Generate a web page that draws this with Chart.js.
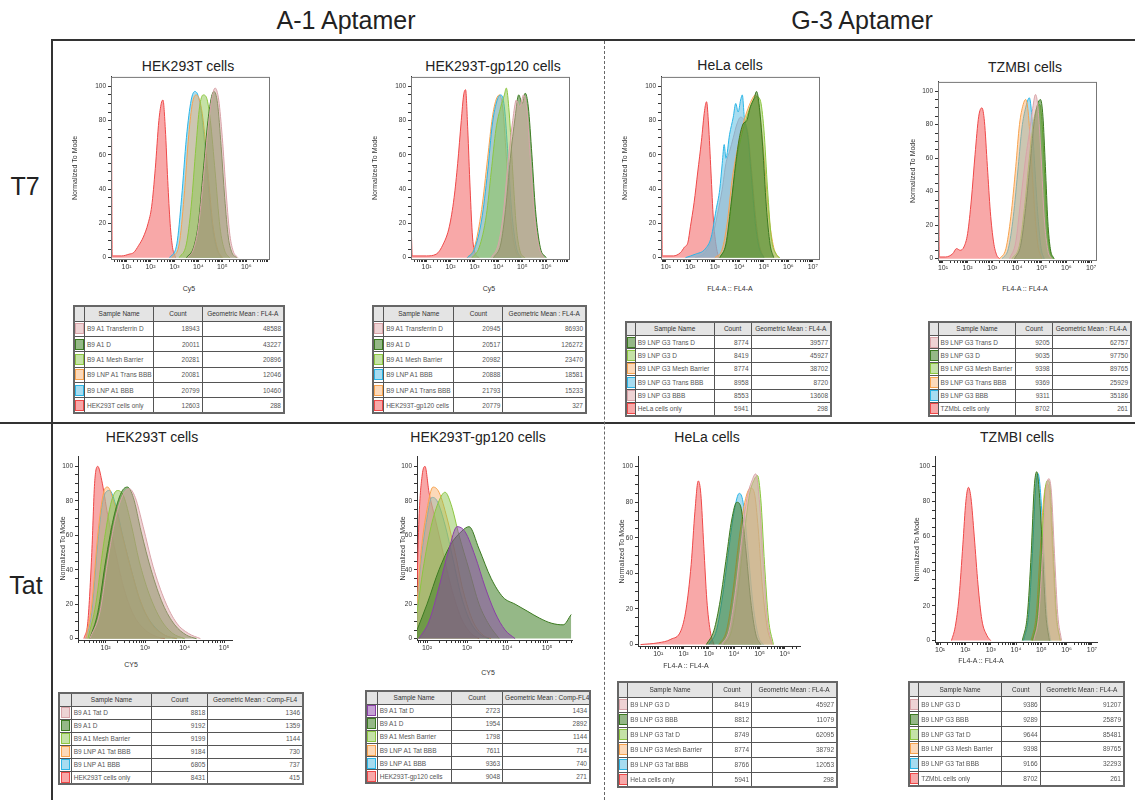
<!DOCTYPE html>
<html>
<head>
<meta charset="utf-8">
<script src="https://cdn.jsdelivr.net/npm/chart.js@4.4.0/dist/chart.umd.min.js"></script>
<style>
  body { margin: 0; background: #fff; font-family: "Liberation Sans", Arial, sans-serif; }
  #fig { position: relative; width: 1135px; height: 800px; overflow: hidden; }
  .abs { position: absolute; }
  .head { font-size: 25px; color: #222; white-space: nowrap; transform: translate(-50%, -50%); }
  .ptitle { font-size: 14px; color: #222; white-space: nowrap; transform: translate(-50%, -50%); }
  .xlab { font-size: 7px; color: #333; white-space: nowrap; transform: translate(-50%, -50%); }
  table.fj { border-collapse: collapse; table-layout: fixed; font-size: 6.5px; color: #555; border: 2px solid #666; }
  table.fj td, table.fj th { border: 1px solid #555; padding: 0 2px; overflow: hidden; white-space: nowrap; }
  table.fj th { background: #e4e4e4; font-weight: normal; color: #333; text-align: center; }
  table.fj td.num { text-align: right; }
  table.fj td.chip { padding: 0; text-align: center; }
  .sw { display: inline-block; width: 7px; height: 9px; vertical-align: middle; }
</style>
</head>
<body>
<div id="fig"></div>
<script>
// ---- T7 / HEK293T ----
const t7HekNames = ['B9 A1 Transferrin D', 'B9 A1 D', 'B9 A1 Mesh Barrier', 'B9 LNP A1 Trans BBB', 'B9 LNP A1 BBB', 'HEK293T cells only'];
const t7HekCounts = [18943, 20011, 20281, 20081, 20799, 12603];
const t7HekMeans = [48588, 43227, 20896, 12046, 10460, 288];
const t7HekTransD = [[3.55,0],[3.8,5],[4.0,18],[4.2,45],[4.4,75],[4.55,92],[4.7,99],[4.85,92],[5.0,70],[5.15,40],[5.3,15],[5.45,4],[5.65,0]];
const t7HekD = [[3.5,0],[3.8,6],[4.0,20],[4.2,50],[4.4,80],[4.55,94],[4.65,97],[4.8,90],[4.95,65],[5.1,35],[5.25,12],[5.4,3],[5.6,0]];
const t7HekMesh = [[3.2,0],[3.5,8],[3.7,30],[3.9,65],[4.05,88],[4.2,95],[4.35,93],[4.5,80],[4.7,50],[4.9,18],[5.1,4],[5.3,0]];
const t7HekTransBBB = [[2.9,0],[3.2,8],[3.4,35],[3.6,72],[3.75,90],[3.9,95],[4.05,92],[4.2,80],[4.4,50],[4.6,20],[4.8,5],[5.0,0]];
const t7HekBBB = [[2.8,0],[3.1,8],[3.3,35],[3.5,70],[3.7,92],[3.85,97],[4.0,94],[4.15,82],[4.35,52],[4.55,22],[4.75,6],[4.95,0]];
const t7HekCells = [[0.35,0],[0.36,100],[0.4,1],[0.8,1],[1.1,2],[1.3,3],[1.5,7],[1.7,12],[1.9,20],[2.05,30],[2.2,52],[2.35,80],[2.45,90],[2.52,92],[2.62,75],[2.72,45],[2.82,20],[2.92,6],[3.05,0]];

// ---- T7 / HEK293T-gp120 ----
const t7GpNames = ['B9 A1 Transferrin D', 'B9 A1 D', 'B9 A1 Mesh Barrier', 'B9 LNP A1 BBB', 'B9 LNP A1 Trans BBB', 'HEK293T-gp120 cells'];
const t7GpCounts = [20945, 20517, 20982, 20888, 21793, 20779];
const t7GpMeans = [86930, 126272, 23470, 18581, 15233, 327];
const t7GpTransD = [[3.7,0],[4.0,8],[4.2,25],[4.4,55],[4.6,80],[4.75,92],[4.9,88],[5.05,95],[5.2,85],[5.35,55],[5.5,25],[5.7,6],[5.9,0]];
const t7GpD = [[3.8,0],[4.1,8],[4.3,28],[4.5,58],[4.7,82],[4.85,95],[5.0,90],[5.12,96],[5.25,88],[5.4,60],[5.55,28],[5.75,6],[6.0,0]];
const t7GpMesh = [[2.9,0],[3.2,6],[3.5,25],[3.7,50],[3.9,75],[4.1,88],[4.25,95],[4.33,99],[4.45,85],[4.6,50],[4.75,18],[4.9,4],[5.1,0]];
const t7GpBBB = [[2.7,0],[3.0,5],[3.3,22],[3.55,50],[3.75,78],[3.95,92],[4.1,95],[4.25,88],[4.4,60],[4.55,28],[4.75,6],[4.95,0]];
const t7GpTransBBB = [[2.7,0],[3.0,6],[3.3,28],[3.55,58],[3.75,82],[3.9,92],[4.05,95],[4.2,85],[4.35,55],[4.5,25],[4.7,5],[4.9,0]];
const t7GpCells = [[0.35,0],[0.36,15],[0.4,1],[1.0,1],[1.4,2],[1.7,8],[1.95,18],[2.15,35],[2.3,55],[2.45,80],[2.55,95],[2.63,98],[2.72,75],[2.82,40],[2.92,12],[3.05,2],[3.2,0]];

// ---- T7 / HeLa ----
const t7HelaNames = ['B9 LNP G3 Trans D', 'B9 LNP G3 D', 'B9 LNP G3 Mesh Barrier', 'B9 LNP G3 Trans BBB', 'B9 LNP G3 BBB', 'HeLa cells only'];
const t7HelaCounts = [8774, 8419, 8774, 8958, 8553, 5941];
const t7HelaMeans = [39577, 45927, 38702, 8720, 13608, 298];
const t7HelaTransD = [[3.2,0],[3.45,8],[3.65,30],[3.85,55],[4.0,70],[4.15,78],[4.3,80],[4.45,88],[4.6,93],[4.7,97],[4.8,90],[4.95,65],[5.1,30],[5.25,8],[5.4,0]];
const t7HelaD = [[3.2,0],[3.5,10],[3.7,35],[3.9,58],[4.1,72],[4.3,82],[4.5,90],[4.7,94],[4.85,92],[5.0,75],[5.15,40],[5.3,12],[5.5,2],[5.65,0]];
const t7HelaMesh = [[3.0,0],[3.3,5],[3.5,20],[3.7,45],[3.9,62],[4.1,75],[4.3,85],[4.5,92],[4.65,95],[4.8,88],[5.0,60],[5.2,25],[5.4,6],[5.6,0]];
const t7HelaTransBBB = [[1.8,0],[2.2,2],[2.6,5],[2.85,12],[3.05,28],[3.2,40],[3.3,55],[3.38,66],[3.45,58],[3.6,72],[3.75,82],[3.85,90],[3.95,85],[4.05,92],[4.12,95],[4.2,82],[4.35,70],[4.5,45],[4.65,20],[4.8,6],[5.0,0]];
const t7HelaBBB = [[2.2,0],[2.6,3],[2.9,12],[3.1,25],[3.3,40],[3.45,55],[3.6,62],[3.75,70],[3.9,78],[4.05,82],[4.2,80],[4.35,72],[4.5,50],[4.65,25],[4.8,8],[5.0,0]];
const t7HelaCells = [[0.8,0],[0.81,100],[0.85,1],[1.3,1],[1.6,3],[1.75,6],[1.9,9],[2.0,18],[2.15,32],[2.3,50],[2.45,68],[2.58,86],[2.66,91],[2.74,78],[2.84,50],[2.94,22],[3.04,8],[3.15,0]];

// ---- T7 / TZMBI ----
const t7TzmNames = ['B9 LNP G3 Trans D', 'B9 LNP G3 D', 'B9 LNP G3 Mesh Barrier', 'B9 LNP G3 Trans BBB', 'B9 LNP G3 BBB', 'TZMbL cells only'];
const t7TzmCounts = [9205, 9035, 9398, 9369, 9311, 8702];
const t7TzmMeans = [62757, 97750, 89765, 25929, 35186, 261];
const t7TzmTransD = [[3.7,0],[3.95,10],[4.15,35],[4.35,60],[4.5,75],[4.62,88],[4.75,98],[4.85,90],[4.98,60],[5.1,25],[5.25,5],[5.4,0]];
const t7TzmD = [[3.9,0],[4.15,8],[4.35,30],[4.55,60],[4.7,82],[4.83,92],[4.95,95],[5.05,85],[5.15,55],[5.25,22],[5.35,6],[5.5,0]];
const t7TzmMesh = [[3.8,0],[4.1,8],[4.3,30],[4.5,60],[4.65,80],[4.8,90],[4.92,92],[5.02,80],[5.12,50],[5.22,20],[5.35,4],[5.5,0]];
const t7TzmTransBBB = [[3.3,0],[3.55,6],[3.75,25],[3.95,55],[4.1,80],[4.25,92],[4.35,95],[4.45,88],[4.58,60],[4.72,28],[4.85,8],[5.0,0]];
const t7TzmBBB = [[3.4,0],[3.65,6],[3.85,25],[4.05,55],[4.2,78],[4.35,90],[4.5,96],[4.6,85],[4.72,55],[4.85,25],[4.98,6],[5.1,0]];
const t7TzmCells = [[0.8,0],[0.81,100],[0.85,1],[1.1,1],[1.4,3],[1.55,6],[1.7,5],[1.85,7],[2.0,15],[2.15,35],[2.3,62],[2.45,85],[2.58,90],[2.68,82],[2.8,55],[2.92,28],[3.05,10],[3.18,2],[3.3,0]];

// ---- Tat / HEK293T ----
const tatHekNames = ['B9 A1 Tat D', 'B9 A1 D', 'B9 A1 Mesh Barrier', 'B9 LNP A1 Tat BBB', 'B9 LNP A1 BBB', 'HEK293T cells only'];
const tatHekCounts = [8818, 9192, 9199, 9184, 6805, 8431];
const tatHekMeans = [1346, 1359, 1144, 730, 737, 415];
const tatHekTatD = [[1.6,0],[1.85,15],[2.05,45],[2.25,70],[2.45,84],[2.6,87],[2.75,82],[2.95,65],[3.2,42],[3.5,22],[3.8,9],[4.1,3],[4.4,0]];
const tatHekD = [[1.6,0],[1.8,15],[2.0,45],[2.2,70],[2.4,85],[2.55,88],[2.7,82],[2.9,62],[3.15,40],[3.45,20],[3.75,8],[4.05,2],[4.3,0]];
const tatHekMesh = [[1.55,0],[1.75,20],[1.95,55],[2.15,80],[2.3,86],[2.45,83],[2.65,66],[2.85,45],[3.1,26],[3.4,11],[3.7,3],[4.0,0]];
const tatHekTatBBB = [[1.5,0],[1.65,20],[1.8,60],[1.95,85],[2.05,88],[2.2,80],[2.4,62],[2.6,44],[2.85,24],[3.15,9],[3.5,2],[3.8,0]];
const tatHekBBB = [[1.5,0],[1.65,15],[1.8,55],[1.95,82],[2.1,86],[2.25,78],[2.45,58],[2.65,40],[2.9,20],[3.2,8],[3.5,2],[3.8,0]];
const tatHekCells = [[1.45,0],[1.55,10],[1.65,50],[1.72,90],[1.8,100],[1.9,92],[2.05,72],[2.25,50],[2.45,30],[2.7,14],[3.0,5],[3.3,1],[3.5,0]];

// ---- Tat / HEK293T-gp120 ----
const tatGpNames = ['B9 A1 Tat D', 'B9 A1 D', 'B9 A1 Mesh Barrier', 'B9 LNP A1 Tat BBB', 'B9 LNP A1 BBB', 'HEK293T-gp120 cells'];
const tatGpCounts = [2723, 1954, 1798, 7611, 9363, 9048];
const tatGpMeans = [1434, 2892, 1144, 714, 740, 271];
const tatGpTatD = [[1.8,0],[2.05,10],[2.3,30],[2.55,52],[2.75,65],[2.95,62],[3.2,48],[3.45,30],[3.7,15],[3.95,5],[4.2,0]];
const tatGpD = [[1.75,5],[2.0,20],[2.3,40],[2.6,55],[2.85,62],[3.05,65],[3.3,52],[3.6,35],[3.9,24],[4.2,20],[4.5,16],[4.8,12],[5.1,9],[5.4,8],[5.6,14]];
const tatGpMesh = [[1.75,15],[1.9,40],[2.1,65],[2.3,80],[2.45,85],[2.6,78],[2.8,60],[3.05,40],[3.3,20],[3.55,8],[3.8,0]];
const tatGpTatBBB = [[1.75,20],[1.85,50],[2.0,75],[2.15,88],[2.3,85],[2.5,70],[2.7,50],[2.9,28],[3.15,10],[3.4,2],[3.6,0]];
const tatGpBBB = [[1.75,18],[1.85,45],[2.0,70],[2.12,82],[2.25,80],[2.45,66],[2.65,46],[2.85,25],[3.1,9],[3.35,2],[3.55,0]];
const tatGpCells = [[1.75,30],[1.8,70],[1.88,95],[1.95,100],[2.05,85],[2.2,70],[2.4,50],[2.6,30],[2.85,12],[3.1,3],[3.3,0]];

// ---- Tat / HeLa ----
const tatHelaNames = ['B9 LNP G3 D', 'B9 LNP G3 BBB', 'B9 LNP G3 Tat D', 'B9 LNP G3 Mesh Barrier', 'B9 LNP G3 Tat BBB', 'HeLa cells only'];
const tatHelaCounts = [8419, 8812, 8749, 8774, 8766, 5941];
const tatHelaMeans = [45927, 11079, 62095, 38792, 12053, 298];
const tatHelaD = [[3.5,0],[3.8,8],[4.05,30],[4.3,60],[4.5,82],[4.7,92],[4.85,96],[5.0,80],[5.15,45],[5.3,15],[5.5,0]];
const tatHelaBBB = [[2.9,0],[3.2,8],[3.45,25],[3.7,50],[3.9,70],[4.1,80],[4.25,78],[4.45,55],[4.65,25],[4.85,6],[5.05,0]];
const tatHelaTatD = [[3.6,0],[3.9,8],[4.15,30],[4.4,62],[4.6,84],[4.8,93],[4.92,95],[5.05,82],[5.2,45],[5.35,15],[5.55,0]];
const tatHelaMesh = [[3.4,0],[3.7,8],[3.95,30],[4.2,60],[4.45,82],[4.65,88],[4.8,85],[4.95,65],[5.1,35],[5.3,10],[5.5,0]];
const tatHelaTatBBB = [[3.0,0],[3.3,8],[3.55,28],[3.8,55],[4.0,75],[4.2,85],[4.35,80],[4.55,52],[4.75,22],[4.95,5],[5.15,0]];
const tatHelaCells = [[0.3,0],[1.0,1],[1.5,3],[1.9,8],[2.1,20],[2.3,45],[2.45,75],[2.58,92],[2.68,85],[2.8,55],[2.92,25],[3.05,8],[3.2,0]];

// ---- Tat / TZMBI ----
const tatTzmNames = ['B9 LNP G3 D', 'B9 LNP G3 BBB', 'B9 LNP G3 Tat D', 'B9 LNP G3 Mesh Barrier', 'B9 LNP G3 Tat BBB', 'TZMbL cells only'];
const tatTzmCounts = [9386, 9289, 9644, 9398, 9166, 8702];
const tatTzmMeans = [91207, 25879, 85481, 89765, 32293, 261];
const tatTzmD = [[4.7,0],[4.9,15],[5.05,50],[5.18,85],[5.3,93],[5.4,85],[5.52,50],[5.65,15],[5.8,0]];
const tatTzmBBB = [[4.25,0],[4.45,15],[4.6,50],[4.72,88],[4.82,97],[4.92,85],[5.05,50],[5.18,15],[5.32,0]];
const tatTzmTatD = [[4.65,0],[4.85,15],[5.0,50],[5.14,85],[5.25,92],[5.35,88],[5.48,50],[5.6,15],[5.75,0]];
const tatTzmMesh = [[4.6,0],[4.8,15],[4.95,50],[5.1,82],[5.22,90],[5.32,86],[5.45,50],[5.58,15],[5.75,0]];
const tatTzmTatBBB = [[4.3,0],[4.5,15],[4.65,50],[4.77,86],[4.87,96],[4.97,85],[5.1,50],[5.22,15],[5.37,0]];
const tatTzmCells = [[1.45,0],[1.6,8],[1.75,25],[1.9,55],[2.02,80],[2.12,88],[2.22,82],[2.35,60],[2.5,32],[2.65,12],[2.85,3],[3.0,0]];

const palette = {
  red:     ['#ef4848', 'rgba(242,96,96,0.55)'],
  pink:    ['#d8a3a8', 'rgba(222,168,170,0.5)'],
  dkgreen: ['#3b7a20', 'rgba(62,125,36,0.55)'],
  ltgreen: ['#8cc63f', 'rgba(140,198,80,0.5)'],
  orange:  ['#f7a34e', 'rgba(248,170,100,0.45)'],
  blue:    ['#2bb5e6', 'rgba(80,185,225,0.5)'],
  purple:  ['#8a3fa6', 'rgba(140,70,170,0.5)']
};

const colsA = ['5%', '33%', '23%', '39%'];
const colsG = ['4.5%', '38.5%', '18%', '39%'];

const panels = [
  { title: 'HEK293T cells', tx: 188, ty: 66, plot: [111, 75, 269, 259], xr: [0.35, 6.95], xLabel: 'Cy5', lx: 189, ly: 288, yt: 36, frame: true,
    names: t7HekNames, counts: t7HekCounts, means: t7HekMeans, meanHead: 'Geometric Mean : FL4-A',
    curves: [t7HekTransD, t7HekD, t7HekMesh, t7HekTransBBB, t7HekBBB, t7HekCells],
    colors: ['pink', 'dkgreen', 'ltgreen', 'orange', 'blue', 'red'], tbl: [73, 305, 212, 107], cols: colsA },
  { title: 'HEK293T-gp120  cells', tx: 493, ty: 66, plot: [411, 75, 569, 259], xr: [0.35, 6.95], xLabel: 'Cy5', lx: 489, ly: 288, yt: 36, frame: true,
    names: t7GpNames, counts: t7GpCounts, means: t7GpMeans, meanHead: 'Geometric Mean : FL4-A',
    curves: [t7GpTransD, t7GpD, t7GpMesh, t7GpBBB, t7GpTransBBB, t7GpCells],
    colors: ['pink', 'dkgreen', 'ltgreen', 'blue', 'orange', 'red'], tbl: [372, 305, 215, 107], cols: colsA },
  { title: 'HeLa cells', tx: 730, ty: 65, plot: [661, 75, 819, 259], xr: [0.8, 7.25], xLabel: 'FL4-A :: FL4-A', lx: 730, ly: 288, yt: 36, frame: true,
    names: t7HelaNames, counts: t7HelaCounts, means: t7HelaMeans, meanHead: 'Geometric Mean : FL4-A',
    curves: [t7HelaTransD, t7HelaD, t7HelaMesh, t7HelaTransBBB, t7HelaBBB, t7HelaCells],
    colors: ['dkgreen', 'ltgreen', 'orange', 'blue', 'pink', 'red'], tbl: [625, 321, 207, 94], cols: colsG },
  { title: 'TZMBI cells', tx: 1025, ty: 67, plot: [938, 80, 1096, 260], xr: [0.8, 7.2], xLabel: 'FL4-A :: FL4-A', lx: 1025, ly: 288, yt: 25, frame: true,
    names: t7TzmNames, counts: t7TzmCounts, means: t7TzmMeans, meanHead: 'Geometric Mean : FL4-A',
    curves: [t7TzmTransD, t7TzmD, t7TzmMesh, t7TzmTransBBB, t7TzmBBB, t7TzmCells],
    colors: ['pink', 'dkgreen', 'ltgreen', 'orange', 'blue', 'red'], tbl: [928, 321, 204, 94], cols: colsG },
  { title: 'HEK293T cells', tx: 152, ty: 437, plot: [78, 455, 232, 640], xr: [1.3, 5.2], xLabel: 'CY5', lx: 131, ly: 664, yt: 15, frame: false,
    names: tatHekNames, counts: tatHekCounts, means: tatHekMeans, meanHead: 'Geometric Mean : Comp-FL4',
    curves: [tatHekTatD, tatHekD, tatHekMesh, tatHekTatBBB, tatHekBBB, tatHekCells],
    colors: ['pink', 'dkgreen', 'ltgreen', 'orange', 'blue', 'red'], tbl: [58, 692, 246, 91], cols: colsA },
  { title: 'HEK293T-gp120  cells', tx: 478, ty: 437, plot: [417, 455, 572, 640], xr: [1.75, 5.62], xLabel: 'CY5', lx: 488, ly: 672, yt: 14, frame: false,
    names: tatGpNames, counts: tatGpCounts, means: tatGpMeans, meanHead: 'Geometric Mean : Comp-FL4',
    curves: [tatGpTatD, tatGpD, tatGpMesh, tatGpTatBBB, tatGpBBB, tatGpCells],
    colors: ['purple', 'dkgreen', 'ltgreen', 'orange', 'blue', 'red'], tbl: [365, 690, 226, 92], cols: colsA },
  { title: 'HeLa cells', tx: 707, ty: 437, plot: [638, 455, 800, 646], xr: [0.2, 6.6], xLabel: 'FL4-A :: FL4-A', lx: 686, ly: 665, yt: 16, frame: false,
    names: tatHelaNames, counts: tatHelaCounts, means: tatHelaMeans, meanHead: 'Geometric Mean : FL4-A',
    curves: [tatHelaD, tatHelaBBB, tatHelaTatD, tatHelaMesh, tatHelaTatBBB, tatHelaCells],
    colors: ['pink', 'dkgreen', 'ltgreen', 'orange', 'blue', 'red'], tbl: [617, 681, 221, 105], cols: colsG },
  { title: 'TZMBI cells', tx: 1017, ty: 437, plot: [935, 455, 1097, 642], xr: [0.8, 7.2], xLabel: 'FL4-A :: FL4-A', lx: 981, ly: 660, yt: 18, frame: false,
    names: tatTzmNames, counts: tatTzmCounts, means: tatTzmMeans, meanHead: 'Geometric Mean : FL4-A',
    curves: [tatTzmD, tatTzmBBB, tatTzmTatD, tatTzmMesh, tatTzmTatBBB, tatTzmCells],
    colors: ['pink', 'dkgreen', 'ltgreen', 'orange', 'blue', 'red'], tbl: [908, 681, 217, 104], cols: colsG }
];

const fig = document.getElementById('fig');

function addDiv(cls, text, x, y) {
  const d = document.createElement('div');
  d.className = 'abs ' + cls;
  d.textContent = text;
  d.style.left = x + 'px';
  d.style.top = y + 'px';
  fig.appendChild(d);
  return d;
}

function line(x, y, w, h, style) {
  const d = document.createElement('div');
  d.className = 'abs';
  Object.assign(d.style, { left: x + 'px', top: y + 'px', width: w + 'px', height: h + 'px' }, style);
  fig.appendChild(d);
}

// frame lines of the figure
line(52, 39, 1083, 2, { background: '#333' });
line(51, 39, 2, 761, { background: '#333' });
line(0, 422, 1135, 2, { background: '#333' });
line(604, 41, 0, 759, { borderLeft: '1.5px dashed #666' });

addDiv('head', 'A-1 Aptamer', 346, 20);
addDiv('head', 'G-3 Aptamer', 862, 20);
addDiv('head', 'T7', 25, 186);
addDiv('head', 'Tat', 26, 585);

const sup = { '0': '⁰', '1': '¹', '2': '²', '3': '³', '4': '⁴', '5': '⁵', '6': '⁶', '7': '⁷' };

const framePlugin = {
  id: 'frame',
  afterDraw(chart, args, opts) {
    if (!opts.on) return;
    const a = chart.chartArea, c = chart.ctx;
    c.save();
    c.strokeStyle = '#777';
    c.lineWidth = 1;
    c.strokeRect(a.left + 0.5, a.top + 0.5, a.right - a.left, a.bottom - a.top);
    c.restore();
  }
};

function buildChart(p) {
  const [l, t, r, b] = p.plot;
  const yW = 40, padT = 4, padR = 6, xH = 16;
  const cv = document.createElement('canvas');
  const w = r - l + yW + padR, h = b - t + padT + xH;
  cv.width = w; cv.height = h;
  Object.assign(cv.style, { position: 'absolute', left: (l - yW) + 'px', top: (t - padT) + 'px', width: w + 'px', height: h + 'px' });
  fig.appendChild(cv);

  const datasets = p.curves.map((pts, i) => ({
    label: p.names[i],
    data: pts.map(([x, y]) => ({ x, y })),
    borderColor: palette[p.colors[i]][0],
    backgroundColor: palette[p.colors[i]][1],
    borderWidth: 1,
    fill: 'origin',
    pointRadius: 0,
    cubicInterpolationMode: 'monotone'
  }));

  new Chart(cv, {
    type: 'line',
    data: { datasets },
    plugins: [framePlugin],
    options: {
      responsive: false,
      animation: false,
      layout: { padding: { top: padT, right: padR, left: 0, bottom: 0 } },
      plugins: { legend: { display: false }, tooltip: { enabled: false }, frame: { on: p.frame } },
      scales: {
        x: {
          type: 'linear', min: p.xr[0], max: p.xr[1],
          afterFit: (s) => { s.height = xH; },
          afterBuildTicks: (s) => {
            const ticks = [];
            for (let d = Math.floor(p.xr[0]); d <= p.xr[1]; d++) {
              for (let k = 1; k <= 9; k++) {
                const v = d + Math.log10(k);
                if (v >= p.xr[0] && v <= p.xr[1]) ticks.push({ value: v, major: k === 1 });
              }
            }
            s.ticks = ticks;
          },
          ticks: {
            autoSkip: false, maxRotation: 0, padding: 1,
            font: { size: 7, family: 'Liberation Sans' }, color: '#333',
            callback: (v) => {
              const r0 = Math.round(v);
              return Math.abs(v - r0) < 1e-6 ? '10' + (sup[r0] || '') : '';
            }
          },
          grid: { drawOnChartArea: false, tickLength: 3, color: '#333', tickWidth: 1 },
          border: { color: '#333', width: 1 }
        },
        y: {
          min: -0.8, max: 105.5,
          afterFit: (s) => { s.width = yW; },
          afterBuildTicks: (s) => {
            const ticks = [];
            for (let v = 0; v <= 100; v += 5) ticks.push({ value: v });
            s.ticks = ticks;
          },
          ticks: {
            autoSkip: false, padding: 2,
            font: { size: 6.5, family: 'Liberation Sans' }, color: '#333',
            callback: (v) => (v % 20 === 0 ? String(v) : '')
          },
          grid: { drawOnChartArea: false, tickLength: 3, color: '#333' },
          border: { color: '#333', width: 1 },
          title: { display: true, text: 'Normalized To Mode', font: { size: 7, family: 'Liberation Sans' }, color: '#333',
                   padding: { top: Math.max(0, yW - p.yt - 4), bottom: 0 } }
        }
      }
    }
  });
  addDiv('xlab', p.xLabel, p.lx, p.ly);
}

function buildTable(p) {
  const [x, y, w, h] = p.tbl;
  const tb = document.createElement('table');
  tb.className = 'abs fj';
  Object.assign(tb.style, { left: x + 'px', top: y + 'px', width: w + 'px', height: h + 'px' });
  const cg = document.createElement('colgroup');
  p.cols.forEach((cw) => {
    const c = document.createElement('col'); c.style.width = cw; cg.appendChild(c);
  });
  tb.appendChild(cg);
  const rh = (h / 7).toFixed(2) + 'px';
  const hr = tb.insertRow();
  hr.style.height = rh;
  ['', 'Sample Name', 'Count', p.meanHead].forEach((txt) => {
    const th = document.createElement('th'); th.textContent = txt; hr.appendChild(th);
  });
  p.names.forEach((nm, i) => {
    const tr = tb.insertRow();
    tr.style.height = rh;
    const c0 = tr.insertCell();
    c0.className = 'chip';
    const sw = document.createElement('span');
    sw.className = 'sw';
    const col = palette[p.colors[i]];
    sw.style.background = col[1];
    sw.style.border = '1px solid ' + col[0];
    c0.appendChild(sw);
    const c1 = tr.insertCell(); c1.textContent = nm;
    const c2 = tr.insertCell(); c2.textContent = p.counts[i]; c2.className = 'num';
    const c3 = tr.insertCell(); c3.textContent = p.means[i]; c3.className = 'num';
  });
  fig.appendChild(tb);
}

panels.forEach((p) => {
  addDiv('ptitle', p.title, p.tx, p.ty);
  buildChart(p);
  buildTable(p);
});
</script>
</body>
</html>
